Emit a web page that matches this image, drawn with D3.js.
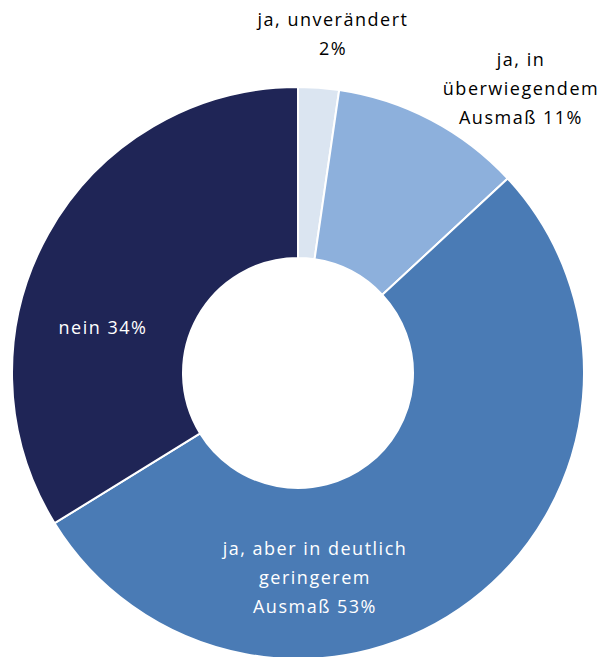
<!DOCTYPE html>
<html>
<head>
<meta charset="utf-8">
<script src="https://cdn.jsdelivr.net/npm/d3@7.9.0/dist/d3.min.js"></script>
<style>
  body { margin: 0; background: #fff; }
  svg text { font-family: "Open Sans", "Noto Sans", sans-serif; font-size: 18px; letter-spacing: 1.5px; }
</style>
</head>
<body>
<svg id="chart" width="606" height="657"></svg>
<script>
// data
const categories = ["ja, unverändert", "ja, in überwiegendem Ausmaß", "ja, aber in deutlich geringerem Ausmaß", "nein"];
const values = [2.3, 10.8, 53.1, 33.8];
const labelLines = [
  ["ja, unverändert", "2%"],
  ["ja, in", "überwiegendem", "Ausmaß 11%"],
  ["ja, aber in deutlich", "geringerem", "Ausmaß 53%"],
  ["nein 34%"]
];
const colors = ["#dbe5f1", "#8db0dc", "#4a7bb5", "#1f2556"];
const textColors = ["#000", "#000", "#fff", "#fff"];
// label anchors (layout, not data)
const labelPos = [[333, 20], [521, 60], [315, 549], [103, 328]];

const width = 606, height = 657;
const cx = 298, cy = 373;
const outerR = 286, innerR = 115;
const lineH = 29;

const svg = d3.select("#chart");
const data = categories.map((c, i) => ({ label: c, value: values[i], i }));

const pie = d3.pie().value(d => d.value).sort(null);
const arc = d3.arc().innerRadius(innerR).outerRadius(outerR);

const g = svg.append("g").attr("transform", `translate(${cx},${cy})`);
g.selectAll("path")
  .data(pie(data))
  .join("path")
  .attr("d", arc)
  .attr("fill", d => colors[d.data.i])
  .attr("stroke", "#fff")
  .attr("stroke-width", 2);

// labels
labelLines.forEach((lines, i) => {
  const t = svg.append("text")
    .attr("text-anchor", "middle")
    .attr("fill", textColors[i]);
  lines.forEach((ln, k) => {
    t.append("tspan")
      .attr("x", labelPos[i][0])
      .attr("y", labelPos[i][1] + k * lineH)
      .attr("dy", "0.35em")
      .text(ln);
  });
});
</script>
</body>
</html>
